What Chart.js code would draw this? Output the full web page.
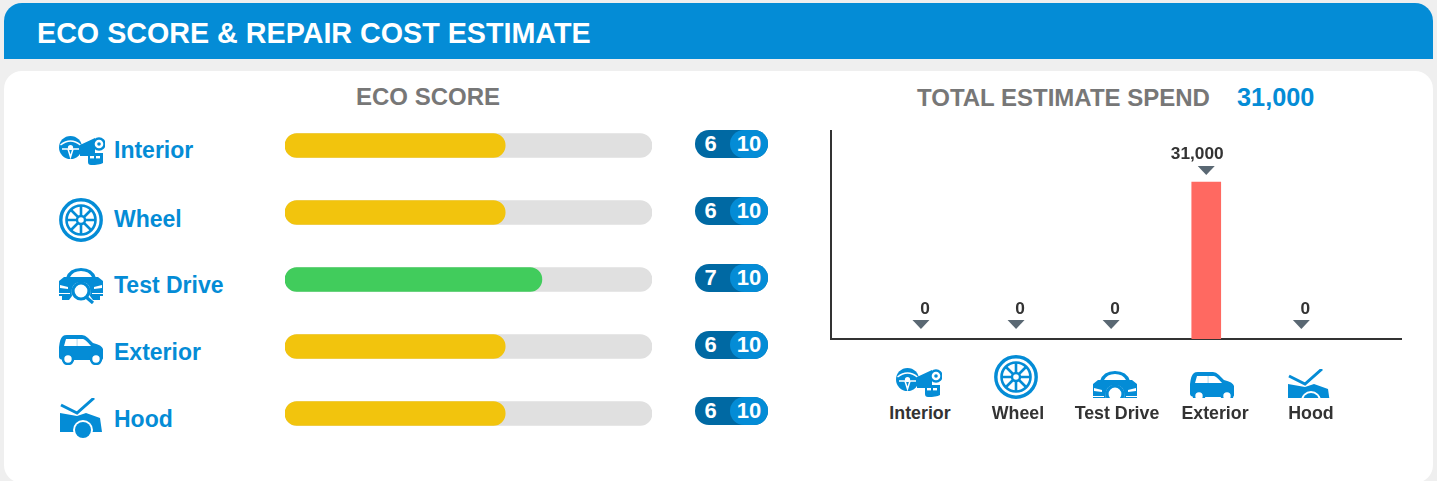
<!DOCTYPE html>
<html>
<head>
<meta charset="utf-8">
<title>Eco score</title>
<script src="https://cdn.jsdelivr.net/npm/chart.js@4"></script>
<style>
    html, body { margin: 0; padding: 0; width: 1437px; height: 481px; overflow: hidden; background: #efefef; }
    body { position: relative; font-family: "Liberation Sans", Arial, sans-serif; font-weight: bold; }
    .abs { position: absolute; white-space: nowrap; line-height: 1; }
    #header { position: absolute; left: 4px; top: 3px; width: 1429px; height: 56px; background: #048cd6; border-radius: 18px 18px 0 0; }
    #card { position: absolute; left: 4px; top: 71px; width: 1429px; height: 412px; background: #fff; border-radius: 18px; }
    #chart_scores { position: absolute; left: 285px; top: 112px; }
    #chart_costs { position: absolute; left: 820px; top: 120px; }
    .badge { position: absolute; left: 695px; width: 73px; height: 28px; border-radius: 14px; background: #0069a3; color: #fff; font-size: 22px; }
    .badge i { position: absolute; left: 35px; top: 0; width: 38px; height: 28px; border-radius: 14px; background: #048cd6; font-style: normal; text-align: center; line-height: 28px; }
    .badge b { position: absolute; left: 0; top: 0; width: 31px; text-align: center; line-height: 28px; }
    .clip { position: absolute; overflow: hidden; }
    .clip svg { position: absolute; left: 0; top: 0; }
</style>
</head>
<body>
<svg width="0" height="0" style="position:absolute">
    <symbol id="icon_interior" viewBox="0 0 46 30">
        <circle cx="11.5" cy="11.5" r="11.5" fill="#048cd6"/>
        <path d="M1.5 9 Q11.5 1 21.5 9 M3 13 H9 L11.5 21 L14 13 H20" fill="none" stroke="#fff" stroke-width="1.5"/>
        <circle cx="11.5" cy="11.5" r="2.6" fill="#fff"/>
        <path d="M21 9 L36 2 V17 L44 17 V27 Q40 29 32 29 Q29 29 29 26 V20 H21 Z" fill="#048cd6"/>
        <circle cx="40" cy="8" r="5.5" fill="#fff" stroke="#048cd6" stroke-width="2.4"/>
        <circle cx="40" cy="8" r="1.8" fill="#048cd6"/>
        <rect x="31" y="20" width="4" height="2.4" fill="#fff"/><rect x="37" y="20" width="4" height="2.4" fill="#fff"/>
    </symbol>
    <symbol id="icon_wheel" viewBox="0 0 44 44">
        <circle cx="22" cy="22" r="20.2" fill="none" stroke="#048cd6" stroke-width="3.4"/>
        <circle cx="22" cy="22" r="14.5" fill="none" stroke="#048cd6" stroke-width="2.6"/>
        <circle cx="22" cy="22" r="4" fill="none" stroke="#048cd6" stroke-width="2.4"/>
        <path d="M22 8 V18 M22 26 V36 M8 22 H18 M26 22 H36 M12 12 L19 19 M25 25 L32 32 M32 12 L25 19 M19 25 L12 32" stroke="#048cd6" stroke-width="2.6"/>
    </symbol>
    <symbol id="icon_testdrive" viewBox="0 0 44 38">
        <path d="M7 12 Q10 2 22 2 Q34 2 37 12 Z M11 11 H33 Q30 5 22 5 Q14 5 11 11 Z" fill="#048cd6" fill-rule="evenodd"/>
        <path d="M0 15 L5 11 H39 L44 15 V30 H41 V34 H34 L31 30 Q33 16 22 16 Q11 16 13 30 L10 34 H3 V30 H0 Z" fill="#048cd6"/>
        <path d="M1 19 L9 21 V23 L1 22 Z M43 19 L35 21 V23 L43 22 Z M0 27 H11 V28 H0 Z M33 27 H44 V28 H33 Z" fill="#fff"/>
        <circle cx="22" cy="25" r="8" fill="#fff" stroke="#048cd6" stroke-width="3.2"/>
        <path d="M27 31 L34 37" stroke="#048cd6" stroke-width="3.2"/>
    </symbol>
    <symbol id="icon_exterior" viewBox="0 0 44 30">
        <path d="M0 12 Q1 3 4 1 Q5 0 8 0 H23 Q26 0 29 3 L34 8 Q43 10 44 14 V23 Q44 25 41 25 H6 Q0 25 0 22 Z" fill="#048cd6"/>
        <path d="M7 4 H24 Q26 4 32 11 H5 Z" fill="#fff"/>
        <rect x="17.5" y="4" width="1.2" height="7" fill="#bfe0f3"/>
        <circle cx="9" cy="24" r="5" fill="#fff" stroke="#048cd6" stroke-width="2.6"/>
        <circle cx="37" cy="24" r="5" fill="#fff" stroke="#048cd6" stroke-width="2.6"/>
    </symbol>
    <symbol id="icon_hood" viewBox="0 0 42 42">
        <path d="M1 7 L17 15 L34 0" fill="none" stroke="#048cd6" stroke-width="3"/>
        <path d="M0 15 L17 18 L26 15 L40 20 L42 34 L0 34 Z" fill="#048cd6"/>
        <circle cx="23" cy="32" r="10" fill="#fff"/>
        <circle cx="23" cy="32" r="8" fill="#048cd6"/>
    </symbol>
</svg>

<div id="header"></div>
<div id="card"></div>
<div class="abs" id="main_title" style="left:37px;top:19px;font-size:28.7px;color:#fff">ECO SCORE &amp; REPAIR COST ESTIMATE</div>
<div class="abs" id="eco_title" style="left:356px;top:85px;font-size:24px;color:#777">ECO SCORE</div>
<div class="abs" id="spend_title" style="left:917px;top:86px;font-size:24px;color:#777">TOTAL ESTIMATE SPEND</div>
<div class="abs" id="spend_total" style="left:1237px;top:85px;font-size:25.3px;color:#048cd6"></div>

<canvas id="chart_scores" width="367" height="335"></canvas>
<canvas id="chart_costs" width="600" height="240"></canvas>

<script>
const CATEGORIES = ["Interior", "Wheel", "Test Drive", "Exterior", "Hood"];
const ICONS = ["interior", "wheel", "testdrive", "exterior", "hood"];
const ECO_SCORES = [6, 6, 7, 6, 6];
const ECO_MAX = [10, 10, 10, 10, 10];
const REPAIR_COSTS = [0, 0, 0, 31000, 0];
const TOTAL_SPEND = 31000;

const BLUE = "#048cd6";
const YELLOW = "#f2c40d";
const GREEN = "#41cc5c";
const TRACK = "#e0e0e0";
const CORAL = "#ff6961";

// where the html bits of each row sit
const ROW_LAYOUT = [
    {icon: [59, 136, 46, 30], label: 139, badge: 130},
    {icon: [59, 198, 44, 44], label: 208, badge: 197},
    {icon: [59, 266, 44, 38], label: 274, badge: 264},
    {icon: [59, 335, 44, 30], label: 341, badge: 331},
    {icon: [60, 398, 42, 42], label: 408, badge: 397}
];
const BOTTOM_LAYOUT = [
    {icon: [896, 368, 46, 30], clip: 30, label: 920},
    {icon: [994, 355, 44, 44], clip: 44, label: 1018},
    {icon: [1093, 369, 44, 38], clip: 29, label: 1117},
    {icon: [1190, 372, 44, 30], clip: 26, label: 1215},
    {icon: [1288, 369, 42, 42], clip: 29, label: 1311}
];

function barColor(score) {
    /*
    7 and up is green, the rest yellow
    */
    return score >= 7 ? GREEN : YELLOW;
}

function addIcon(name, box, clip) {
    let div = document.createElement("div");
    div.className = "clip";
    div.style.cssText = `left:${box[0]}px;top:${box[1]}px;width:${box[2]}px;height:${clip}px`;
    div.innerHTML = `<svg width="${box[2]}" height="${box[3]}"><use href="#icon_${name}"/></svg>`;
    document.body.appendChild(div);
}

function addText(text, css) {
    let div = document.createElement("div");
    div.className = "abs";
    div.style.cssText = css;
    div.textContent = text;
    document.body.appendChild(div);
}

function createRows() {
    /*
    left column rows : icon, label, score badge. Bottom row under the cost chart.
    */
    CATEGORIES.forEach((cat, i) => {
        let row = ROW_LAYOUT[i];
        addIcon(ICONS[i], row.icon, row.icon[3]);
        addText(cat, `left:114px;top:${row.label}px;font-size:23px;color:${BLUE}`);

        let badge = document.createElement("div");
        badge.className = "badge";
        badge.style.top = row.badge + "px";
        badge.innerHTML = `<b>${ECO_SCORES[i]}</b><i>${ECO_MAX[i]}</i>`;
        document.body.appendChild(badge);

        let low = BOTTOM_LAYOUT[i];
        addIcon(ICONS[i], low.icon, low.clip);
        addText(cat, `left:${low.label - 60}px;width:120px;text-align:center;top:405px;font-size:17.8px;color:#333`);
    });
    document.getElementById("spend_total").textContent = TOTAL_SPEND.toLocaleString("en-US");
}

function createChartScores() {
    /*
    horizontal bars : the grey track sits behind the score
    */
    new Chart(document.getElementById("chart_scores").getContext("2d"), {
        type: "bar",
        data: {
            labels: CATEGORIES,
            datasets: [
                {
                    label: "Score",
                    data: ECO_SCORES,
                    backgroundColor: ECO_SCORES.map(barColor),
                    order: 1
                },
                {
                    label: "Max",
                    data: ECO_MAX,
                    backgroundColor: TRACK,
                    order: 2
                }
            ]
        },
        options: {
            indexAxis: "y",
            responsive: false,
            animation: false,
            layout: {padding: 0},
            datasets: {
                bar: {grouped: false, barThickness: 24, borderRadius: 12, borderSkipped: false}
            },
            plugins: {legend: {display: false}, tooltip: {enabled: false}},
            scales: {
                x: {display: false, min: 0, max: 10},
                y: {display: false}
            }
        }
    });
}

// value text and the small arrow above each cost bar
const costLabels = {
    id: "costLabels",
    afterDatasetsDraw(chart) {
        let ctx = chart.ctx;
        chart.getDatasetMeta(0).data.forEach((bar, i) => {
            let value = REPAIR_COSTS[i];
            let y = value === 0 ? bar.y - 3 : bar.y;
            ctx.save();
            ctx.fillStyle = "#5a6873";
            ctx.beginPath();
            ctx.moveTo(bar.x - 8.5, y - 16);
            ctx.lineTo(bar.x + 8.5, y - 16);
            ctx.lineTo(bar.x, y - 7);
            ctx.closePath();
            ctx.fill();
            ctx.fillStyle = "#333";
            ctx.font = 'bold 17.3px "Liberation Sans"';
            ctx.textAlign = "center";
            ctx.textBaseline = "middle";
            ctx.fillText(value.toLocaleString("en-US"), bar.x + (value > 0 ? -9 : 4), y - (value > 0 ? 27.5 : 26.5));
            ctx.restore();
        });
    }
};

function createChartCosts() {
    new Chart(document.getElementById("chart_costs").getContext("2d"), {
        type: "bar",
        data: {
            datasets: [{
                label: "Estimate",
                data: REPAIR_COSTS.map((v, i) => ({x: i, y: v})),
                backgroundColor: REPAIR_COSTS.map(v => v > 0 ? CORAL : "transparent"),
                barThickness: 29
            }]
        },
        options: {
            responsive: false,
            animation: false,
            layout: {padding: {left: 11, top: 11, right: 19, bottom: 21}},
            plugins: {legend: {display: false}, tooltip: {enabled: false}},
            scales: {
                x: {
                    type: "linear",
                    offset: false,
                    min: -0.946,
                    max: 5.048,
                    grid: {display: false},
                    ticks: {display: false},
                    border: {color: "#333", width: 2},
                    afterFit: scale => { scale.height = 0; }
                },
                y: {
                    min: 0,
                    max: 41071,
                    grid: {display: false},
                    ticks: {display: false},
                    border: {color: "#333", width: 2},
                    afterFit: scale => { scale.width = 0; }
                }
            }
        },
        plugins: [costLabels]
    });
}

function main() {
    createRows();
    createChartScores();
    createChartCosts();
}

main();
</script>
</body>
</html>
